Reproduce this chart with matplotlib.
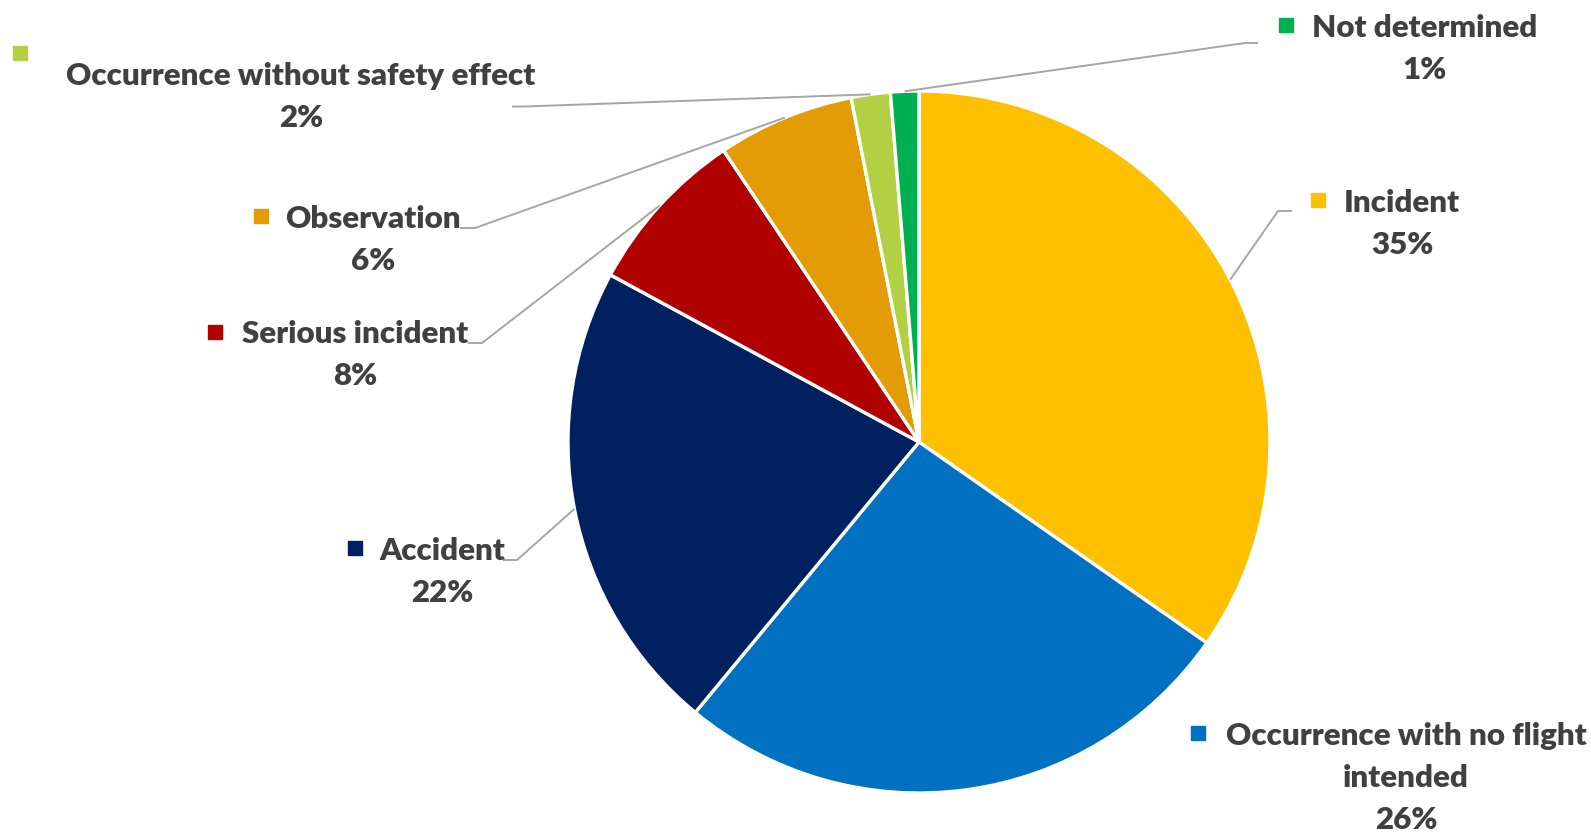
import matplotlib
matplotlib.use("Agg")
import matplotlib.pyplot as plt
import numpy as np

plt.rcParams["font.family"] = ["Lato", "DejaVu Sans"]

# slice data, clockwise from 12 o'clock
categories = [
    "Incident",
    "Occurrence with no flight\nintended",
    "Accident",
    "Serious incident",
    "Observation",
    "Occurrence without safety effect",
    "Not determined",
]
shares = [34.7, 26.3, 21.9, 7.7, 6.3, 1.8, 1.3]
colors = ["#FFC000", "#0070C0", "#002060", "#B00000", "#E39C05", "#B1D043", "#00B050"]

W, H = 1591, 832
CX, CY, R = 919, 442, 351  # pie centre / radius in pixels (y down)
TEXT = "#404040"
LEADER = "#A6A6A6"
LINE_H = 42

# label layout in pixels (y down): text centre x, first baseline y, marker xy, leader elbow
layout = [
    dict(tx=1402, by=212, mk=(1318, 200), elbow=(1278, 211), tail=1292),
    dict(tx=1406, by=745, mk=(1198, 733), elbow=None, tail=None),
    dict(tx=442, by=560, mk=(355, 548), elbow=(517, 560), tail=503),
    dict(tx=355, by=343, mk=(215, 332), elbow=(482, 343), tail=468),
    dict(tx=373, by=228, mk=(261, 216), elbow=(475, 228), tail=460),
    dict(tx=301, by=85, mk=(20, 53), elbow=(524, 106.5), tail=512),
    dict(tx=1425, by=37, mk=(1286, 25), elbow=(1245, 43), tail=1258),
]


def fy(y):
    return H - y


fig = plt.figure(figsize=(W / 100, H / 100), dpi=100)
ax = fig.add_axes([0, 0, 1, 1])

ax.pie(
    shares,
    colors=colors,
    startangle=90,
    counterclock=False,
    center=(CX, fy(CY)),
    radius=R,
    wedgeprops=dict(edgecolor="white", linewidth=2.4),
)
ax.set_xlim(0, W)
ax.set_ylim(0, H)
ax.set_aspect("equal")
ax.axis("off")

cum = np.cumsum(shares) - np.array(shares) / 2
for name, val, col, mid, lay in zip(categories, shares, colors, cum, layout):
    lines = name.split("\n") + [f"{round(val)}%"]
    for i, line in enumerate(lines):
        ax.text(lay["tx"], fy(lay["by"] + i * LINE_H), line, ha="center", va="baseline",
                fontsize=22.5, fontweight="heavy", color=TEXT)
    ax.plot(lay["mk"][0], fy(lay["mk"][1]), marker="s", markersize=9.5, color=col,
            linestyle="none")
    if lay["elbow"] is not None:
        ang = np.deg2rad(mid / 100 * 360)
        ax_x = CX + R * np.sin(ang)
        ax_y = CY - R * np.cos(ang)
        ex, ey = lay["elbow"]
        ax.plot([ax_x, ex, lay["tail"]], [fy(ax_y), fy(ey), fy(ey)],
                color=LEADER, linewidth=1.4, solid_capstyle="butt")

fig.savefig("out.png", dpi=100)
